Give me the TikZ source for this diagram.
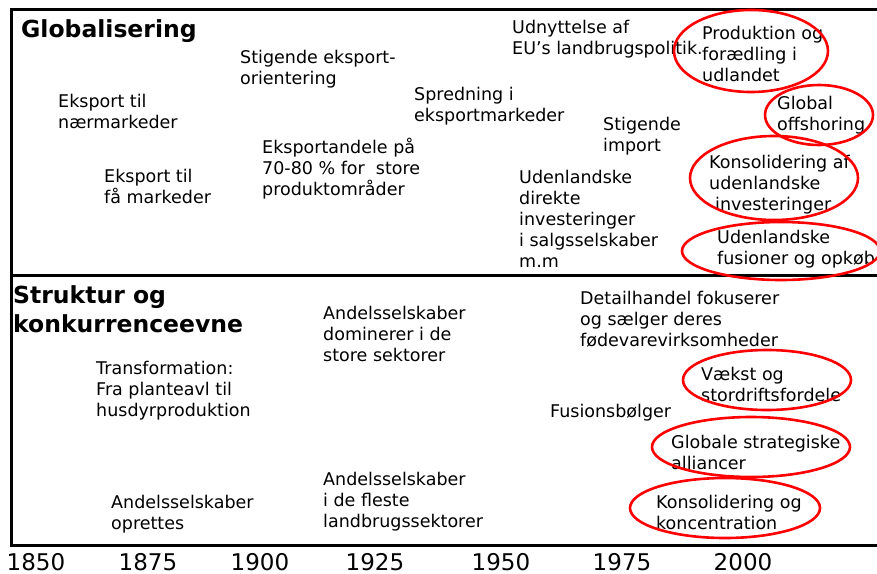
\documentclass[tikz,border=0pt]{standalone}
\usepackage{fontspec}
\setmainfont{DejaVu Sans}
\usepackage{tikz}
\tikzset{ evt_txt/.style = {anchor=north west, inner sep=0pt, align=left, yshift=-2pt, font=\fontsize{17.5}{21}\selectfont} }
\tikzset{ head_txt/.style = {anchor=north west, inner sep=0pt, align=left, font=\bfseries\fontsize{23.5}{29}\selectfont} }
\tikzset{ year_txt/.style = {anchor=base, inner sep=0pt, font=\fontsize{23}{28}\selectfont} }
\tikzset{ ring_mark/.style = {draw=red, line width=2.6pt} }
\tikzset{ frame_line/.style = {line width=3pt} }

\begin{document}
\begin{tikzpicture}[x=1pt,y=-1pt]
        \useasboundingbox (0,0) rectangle (877,573);
        \draw[frame_line] (877,9) -- (11,9) -- (11,545) -- (877,545);
        \draw[frame_line] (11,275) -- (877,275);
        \node[head_txt] (glob) at (21,19) {Globalisering};
        \node[evt_txt] (g1) at (240,48) {Stigende eksport-\\orientering};
        \node[evt_txt] (g2) at (58,92) {Eksport til\\nærmarkeder};
        \node[evt_txt] (g3) at (104,167) {Eksport til\\få markeder};
        \node[evt_txt] (g4) at (262,136) {Eksportandele på\\70-80 \% for\ \ store\\produktområder};
        \node[evt_txt] (g5) at (414,85) {Spredning i\\eksportmarkeder};
        \node[evt_txt] (g6) at (512,18) {Udnyttelse af\\EU’s landbrugspolitik.};
        \node[evt_txt] (g7) at (603,115) {Stigende\\import};
        \node[evt_txt] (g8) at (519,168) {Udenlandske\\direkte\\investeringer\\i salgsselskaber\\m.m};
        \node[evt_txt] (g9) at (702,24) {Produktion og\\forædling i\\udlandet};
        \node[evt_txt] (g10) at (777,94) {Global\\offshoring};
        \node[evt_txt] (g11) at (709,153) {Konsolidering af\\udenlandske\\\hspace*{6pt}investeringer};
        \node[evt_txt] (g12) at (717,228) {Udenlandske\\fusioner og opkøb};
        \node[head_txt] (struk) at (13,285) {Struktur og\\konkurrenceevne};
        \node[evt_txt] (s1) at (96,359) {Transformation:\\Fra planteavl til\\husdyrproduktion};
        \node[evt_txt] (s2) at (111,493) {Andelsselskaber\\oprettes};
        \node[evt_txt] (s3) at (323,304) {Andelsselskaber\\dominerer i de\\store sektorer};
        \node[evt_txt] (s4) at (323,470) {Andelsselskaber\\i de fleste\\landbrugssektorer};
        \node[evt_txt] (s5) at (580,289) {Detailhandel fokuserer\\og sælger deres\\fødevarevirksomheder};
        \node[evt_txt] (s6) at (550,402) {Fusionsbølger};
        \node[evt_txt] (s7) at (701,365) {Vækst og\\stordriftsfordele};
        \node[evt_txt] (s8) at (671,433) {Globale strategiske\\alliancer};
        \node[evt_txt] (s9) at (656,493) {Konsolidering og\\koncentration};
        \draw[ring_mark] (751,51) ellipse [x radius=77pt, y radius=41pt];
        \draw[ring_mark] (819,115) ellipse [x radius=54pt, y radius=30pt];
        \draw[ring_mark] (774,178) ellipse [x radius=84pt, y radius=42pt];
        \draw[ring_mark] (781,251) ellipse [x radius=99pt, y radius=29pt];
        \draw[ring_mark] (767,380) ellipse [x radius=84pt, y radius=30pt];
        \draw[ring_mark] (751,447) ellipse [x radius=99pt, y radius=30pt];
        \draw[ring_mark] (725,508) ellipse [x radius=95pt, y radius=30pt];
        \node[year_txt] (y1) at (36,570) {1850};
        \node[year_txt] (y2) at (148,570) {1875};
        \node[year_txt] (y3) at (260,570) {1900};
        \node[year_txt] (y4) at (375,570) {1925};
        \node[year_txt] (y5) at (501,570) {1950};
        \node[year_txt] (y6) at (622,570) {1975};
        \node[year_txt] (y7) at (743,570) {2000};
        \end{tikzpicture}
\end{document}
